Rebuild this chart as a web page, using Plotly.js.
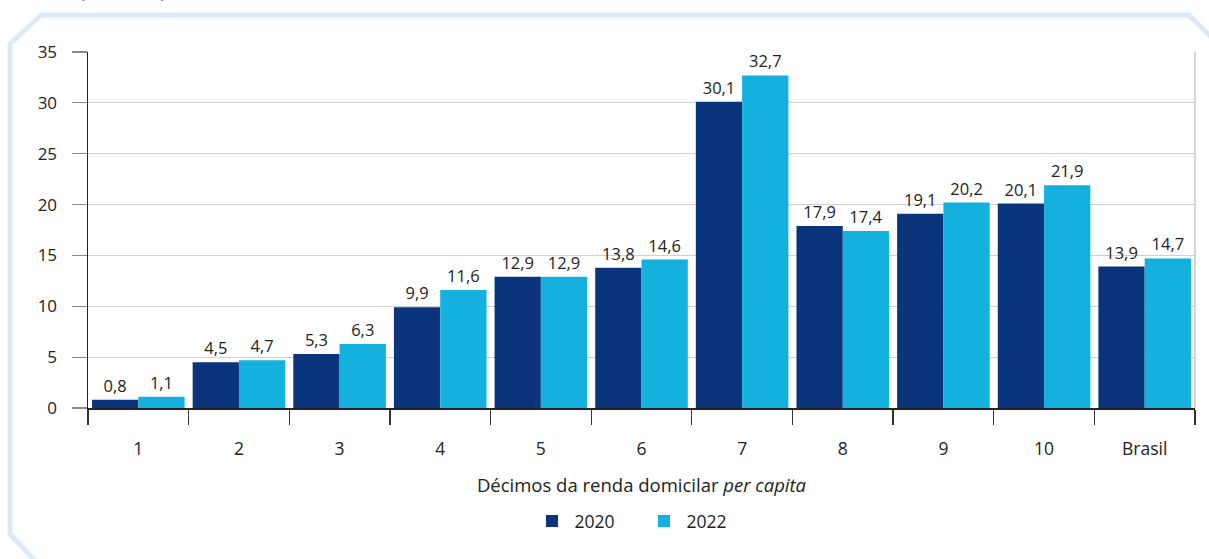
<!DOCTYPE html>
<html>
<head>
<meta charset="utf-8">
<script src="https://cdn.plot.ly/plotly-3.0.1.min.js"></script>
<style>
html,body{margin:0;padding:0;background:#fff;}
#wrap{position:relative;width:1209px;height:559px;overflow:hidden;}
#frame{position:absolute;left:0;top:0;}
#chart{position:absolute;left:0;top:0;width:1209px;height:559px;}
</style>
</head>
<body>
<div id="wrap">
<svg id="frame" width="1209" height="559">
  <path d="M36,562 L10,534 L10,44 L41,15 L1189,15 L1212,38" fill="none" stroke="#dde9f6" stroke-width="5"/>
</svg>
<div id="chart"></div>
</div>
<script>
const categories = ["1","2","3","4","5","6","7","8","9","10","Brasil"];
const values2020 = [0.8,4.5,5.3,9.9,12.9,13.8,30.1,17.9,19.1,20.1,13.9];
const values2022 = [1.1,4.7,6.3,11.6,12.9,14.6,32.7,17.4,20.2,21.9,14.7];
const yTicks = [0,5,10,15,20,25,30,35];
const seriesNames = ["2020","2022"];
const colors = ["#0a357b","#14b0de"];
const FONT = "Open Sans, Noto Sans, sans-serif";

const traces = [values2020, values2022].map((v,i)=>({
  type:"bar", x:categories, y:v, name:seriesNames[i],
  marker:{color:colors[i], line:{width:0}},
  texttemplate:"%{y:.1f}", textposition:"outside", cliponaxis:false,
  textfont:{family:FONT,size:16.5,color:"#222"}
}));

const layout = {
  width:1209, height:559,
  margin:{l:88,r:14,t:52,b:151},
  paper_bgcolor:"rgba(0,0,0,0)", plot_bgcolor:"rgba(0,0,0,0)",
  separators:",.",
  font:{family:FONT,size:17,color:"#222"},
  barmode:"group", bargap:0.08, bargroupgap:0,
  showlegend:true,
  legend:{orientation:"h", x:0.5, xanchor:"center", y:-0.318, yanchor:"middle",
          font:{family:FONT,size:17.5,color:"#222"}, itemwidth:35,
          entrywidth:62, entrywidthmode:"pixels", traceorder:"normal"},
  xaxis:{type:"category", tickson:"boundaries", ticks:"outside", ticklen:15, tickwidth:1.2,
         tickcolor:"#333", showline:true, linecolor:"#222", linewidth:1.5,
         ticklabelstandoff:24,
         tickfont:{family:FONT,size:17.5,color:"#222"},
         title:{text:"Décimos da renda domicilar <i>per capita</i>", standoff:20,
                font:{family:FONT,size:18.5,color:"#222"}}},
  yaxis:{range:[0,35], tickvals:yTicks, ticks:"outside", ticklen:15, tickwidth:1.2,
         tickcolor:"#888", showline:true, linecolor:"#222", linewidth:1.5,
         ticklabelstandoff:11,
         showgrid:true, gridcolor:"#d0d0d0", gridwidth:1, zeroline:false,
         tickfont:{family:FONT,size:17,color:"#222"}},
  shapes:[{type:"line", xref:"paper", yref:"paper", x0:1, x1:1, y0:0, y1:1,
           line:{color:"#c8c8c8", width:1.5}}],
  annotations:[{text:"(Em %)", xref:"paper", yref:"paper", x:-0.012, y:1.128,
                xanchor:"left", yanchor:"bottom", showarrow:false,
                font:{family:FONT,size:29,color:"#222"}}]
};

Plotly.newPlot("chart", traces, layout, {displayModeBar:false, staticPlot:true});
</script>
</body>
</html>
